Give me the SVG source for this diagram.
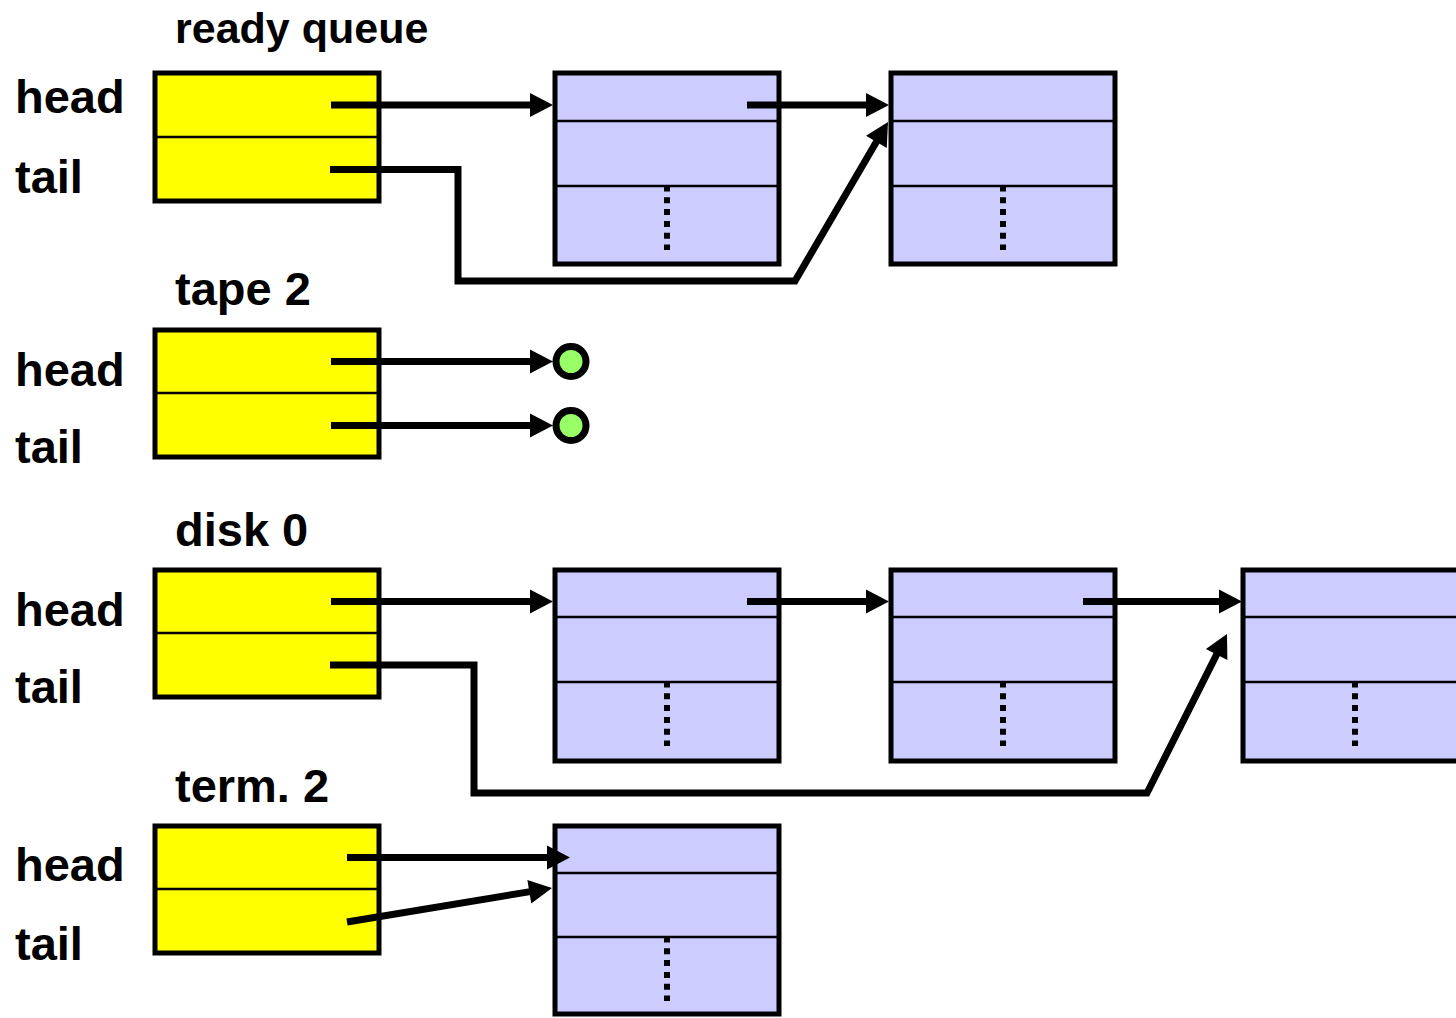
<svg xmlns="http://www.w3.org/2000/svg" width="1456" height="1018" viewBox="0 0 1456 1018">
<style>
  .lbl { font-family: "Liberation Sans", Arial, sans-serif; font-weight: bold; font-size: 47px; fill: #000; }
  .title { font-family: "Liberation Sans", Arial, sans-serif; font-weight: bold; font-size: 47px; fill: #000; }
  .yel { fill: #FFFF00; stroke: #000; stroke-width: 5; }
  .blu { fill: #CCCCFF; stroke: #000; stroke-width: 5; }
  .div { stroke: #000; stroke-width: 2.5; fill: none; }
  .dots { stroke: #000; stroke-width: 6; stroke-dasharray: 6 5.8; fill: none; }
  .conn { stroke: #000; stroke-width: 7; fill: none; stroke-linejoin: miter; }
  .nil { fill: #99FF66; stroke: #000; stroke-width: 7; }
</style>
<defs>
  <marker id="ah" markerUnits="userSpaceOnUse" markerWidth="30" markerHeight="30" refX="1" refY="0" viewBox="0 -15 30 30" orient="auto" overflow="visible">
    <path d="M0,-12 L23,0 L0,12 z" fill="#000"/>
  </marker>
</defs>
<rect width="1456" height="1018" fill="#fff"/>

<!-- ready queue -->
<g id="ready-queue">
  <text class="title" x="175" y="43" style="font-size:43px">ready queue</text>
  <text class="lbl" x="15" y="113">head</text>
  <text class="lbl" x="15" y="193">tail</text>
  <rect class="yel" x="155" y="73" width="224" height="128"/>
  <line class="div" x1="155" y1="137" x2="379" y2="137"/>
</g>
<g id="rq-pcb1">
  <rect class="blu" x="555" y="73" width="224" height="191"/>
  <line class="div" x1="555" y1="121" x2="779" y2="121"/>
  <line class="div" x1="555" y1="186" x2="779" y2="186"/>
  <line class="dots" x1="667" y1="185.5" x2="667" y2="250"/>
</g>
<g id="rq-pcb2">
  <rect class="blu" x="891" y="73" width="224" height="191"/>
  <line class="div" x1="891" y1="121" x2="1115" y2="121"/>
  <line class="div" x1="891" y1="186" x2="1115" y2="186"/>
  <line class="dots" x1="1003" y1="185.5" x2="1003" y2="250"/>
</g>

<!-- tape 2 -->
<g id="tape-2">
  <text class="title" x="175" y="305">tape 2</text>
  <text class="lbl" x="15" y="386">head</text>
  <text class="lbl" x="15" y="463">tail</text>
  <rect class="yel" x="155" y="330" width="224" height="127"/>
  <line class="div" x1="155" y1="393" x2="379" y2="393"/>
</g>
<g id="tape-nil-head"><circle class="nil" cx="571" cy="361.5" r="15"/></g>
<g id="tape-nil-tail"><circle class="nil" cx="571" cy="425.5" r="15"/></g>

<!-- disk 0 -->
<g id="disk-0">
  <text class="title" x="175" y="546">disk 0</text>
  <text class="lbl" x="15" y="626">head</text>
  <text class="lbl" x="15" y="703">tail</text>
  <rect class="yel" x="155" y="570" width="224" height="127"/>
  <line class="div" x1="155" y1="633" x2="379" y2="633"/>
</g>
<g id="disk-pcb1">
  <rect class="blu" x="555" y="570" width="224" height="191"/>
  <line class="div" x1="555" y1="617" x2="779" y2="617"/>
  <line class="div" x1="555" y1="682" x2="779" y2="682"/>
  <line class="dots" x1="667" y1="681.5" x2="667" y2="746"/>
</g>
<g id="disk-pcb2">
  <rect class="blu" x="891" y="570" width="224" height="191"/>
  <line class="div" x1="891" y1="617" x2="1115" y2="617"/>
  <line class="div" x1="891" y1="682" x2="1115" y2="682"/>
  <line class="dots" x1="1003" y1="681.5" x2="1003" y2="746"/>
</g>
<g id="disk-pcb3">
  <rect class="blu" x="1243" y="570" width="224" height="191"/>
  <line class="div" x1="1243" y1="617" x2="1467" y2="617"/>
  <line class="div" x1="1243" y1="682" x2="1467" y2="682"/>
  <line class="dots" x1="1355" y1="681.5" x2="1355" y2="746"/>
</g>

<!-- term. 2 -->
<g id="term-2">
  <text class="title" x="175" y="802">term. 2</text>
  <text class="lbl" x="15" y="881">head</text>
  <text class="lbl" x="15" y="960">tail</text>
  <rect class="yel" x="155" y="826" width="224" height="127"/>
  <line class="div" x1="155" y1="889" x2="379" y2="889"/>
</g>
<g id="term-pcb1">
  <rect class="blu" x="555" y="826" width="224" height="188"/>
  <line class="div" x1="555" y1="873" x2="779" y2="873"/>
  <line class="div" x1="555" y1="937" x2="779" y2="937"/>
  <line class="dots" x1="667" y1="936.5" x2="667" y2="1001"/>
</g>

<g id="connectors">
  <line class="conn" x1="331" y1="105" x2="531" y2="105" marker-end="url(#ah)"/>
  <line class="conn" x1="747" y1="105" x2="867" y2="105" marker-end="url(#ah)"/>
  <polyline class="conn" points="330,169.5 458,169.5 458,281 795,281 876.9,141" marker-end="url(#ah)"/>

  <line class="conn" x1="331" y1="361.5" x2="531" y2="361.5" marker-end="url(#ah)"/>
  <line class="conn" x1="331" y1="425.5" x2="531" y2="425.5" marker-end="url(#ah)"/>

  <line class="conn" x1="331" y1="601.5" x2="531" y2="601.5" marker-end="url(#ah)"/>
  <line class="conn" x1="747" y1="601.5" x2="867" y2="601.5" marker-end="url(#ah)"/>
  <line class="conn" x1="1083" y1="601.5" x2="1220" y2="601.5" marker-end="url(#ah)"/>
  <polyline class="conn" points="330,665 474,665 474,793 1147,793 1217.1,653.6" marker-end="url(#ah)"/>

  <line class="conn" x1="347" y1="857.5" x2="548" y2="857.5" marker-end="url(#ah)"/>
  <line class="conn" x1="347" y1="922" x2="530.3" y2="891.6" marker-end="url(#ah)"/>
</g>
</svg>
